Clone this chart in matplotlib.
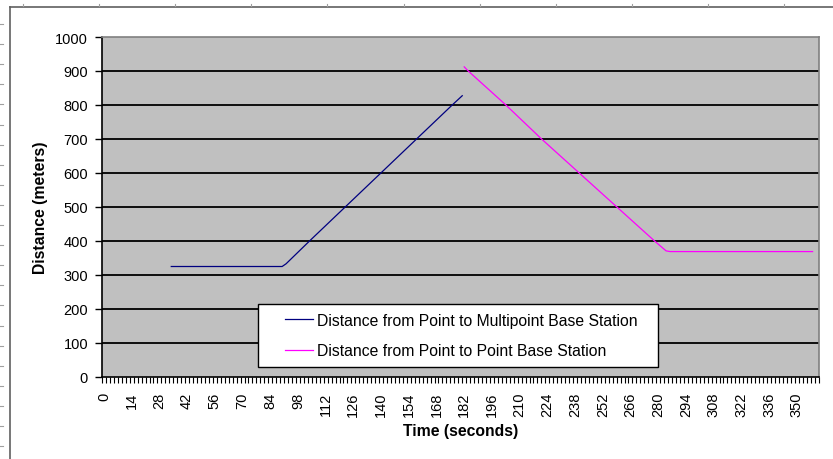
import numpy as np
import matplotlib.pyplot as plt
from matplotlib.lines import Line2D
from matplotlib.legend_handler import HandlerLine2D

plt.rcParams['font.family'] = ['Liberation Sans', 'DejaVu Sans']

# Dados (tempo em s, distância em m)
multi_t = [34, 90, 92, 104, 122, 140, 158, 176, 181]
multi_d = [324, 324, 332, 400, 500, 600, 700, 800, 827]

ptp_t = [182, 184, 203, 221, 240, 259, 278, 284, 286, 358]
ptp_d = [912, 900, 800, 700, 600, 500, 400, 370, 368, 368]

x_labels = list(range(0, 351, 14))
y_ticks = list(range(0, 1001, 100))

W, H = 833, 460
fig = plt.figure(figsize=(W / 100, H / 100), dpi=100)
fig.patch.set_facecolor('white')

# moldura da área do gráfico (estilo Excel)
fig.add_artist(Line2D([10 / W, 1], [1 - 8 / H, 1 - 8 / H], color='#606060', lw=1.2))
fig.add_artist(Line2D([10 / W, 10 / W], [0, 1 - 8 / H], color='#606060', lw=1.2))
for xc in np.arange(23, W, 76.1):
    fig.add_artist(Line2D([xc / W, xc / W], [1 - 5 / H, 1 - 7 / H], color='#a0a0a0', lw=0.8))
for yc in np.arange(25, H, 20.1):
    fig.add_artist(Line2D([0, 3 / W], [1 - yc / H, 1 - yc / H], color='#a0a0a0', lw=0.8))

l, r, t, b = 102 / W, 818.5 / W, 38 / H, 377.5 / H
ax = fig.add_axes([l, 1 - b, r - l, b - t])
ax.set_facecolor('#C0C0C0')

for yv in y_ticks[1:-1]:
    ax.axhline(yv, color='black', lw=1.3, zorder=1)

ax.plot(multi_t, multi_d, color='#000080', lw=0.9, zorder=3,
        label='Distance from Point to Multipoint Base Station')
ax.plot(ptp_t, ptp_d, color='#FF00FF', lw=0.9, zorder=3,
        label='Distance from Point to Point Base Station')

ax.set_xlim(-1, 361)
ax.set_ylim(0, 1000)

ax.set_yticks(y_ticks)
ax.set_xticks(x_labels)
ax.set_xticklabels([str(v) for v in x_labels], rotation=90)
ax.set_xticks(np.arange(-1, 362, 2), minor=True)
ax.tick_params(axis='x', which='major', length=0, pad=11, labelsize=10.5)
ax.tick_params(axis='x', which='minor', length=4, width=0.8, direction='out')
ax.tick_params(axis='y', which='major', length=5, width=1, pad=5, labelsize=10.5)
ax.tick_params(axis='y', which='minor', length=0)

for s in ['top', 'right']:
    ax.spines[s].set_color('#808080')
    ax.spines[s].set_linewidth(1.2)
for s in ['left', 'bottom']:
    ax.spines[s].set_color('black')
    ax.spines[s].set_linewidth(1.2)

ax.set_xlabel('Time (seconds)', fontsize=11.3, fontweight='bold', labelpad=5)
ax.set_ylabel('Distance (meters)', fontsize=11.3, fontweight='bold', labelpad=5)

# legenda: caixa 258..658 px, 306..368 px
aw, ah = 818.5 - 102, 377.5 - 38
leg_box = ((258 - 102) / aw, (377.5 - 368) / ah, 400 / aw, 62 / ah)
handler = HandlerLine2D(xpad=1.2)
leg = ax.legend(loc='lower left', bbox_to_anchor=leg_box, mode='expand',
                frameon=True, fancybox=False, shadow=False, fontsize=11.3,
                framealpha=1, handlelength=2.97, handletextpad=0.22,
                borderpad=0.55, labelspacing=0.98, borderaxespad=0,
                handler_map={Line2D: handler})
leg.get_frame().set_edgecolor('black')
leg.get_frame().set_linewidth(1.0)
leg.get_frame().set_facecolor('white')
leg.set_zorder(5)

plt.savefig('out.png', dpi=100)
